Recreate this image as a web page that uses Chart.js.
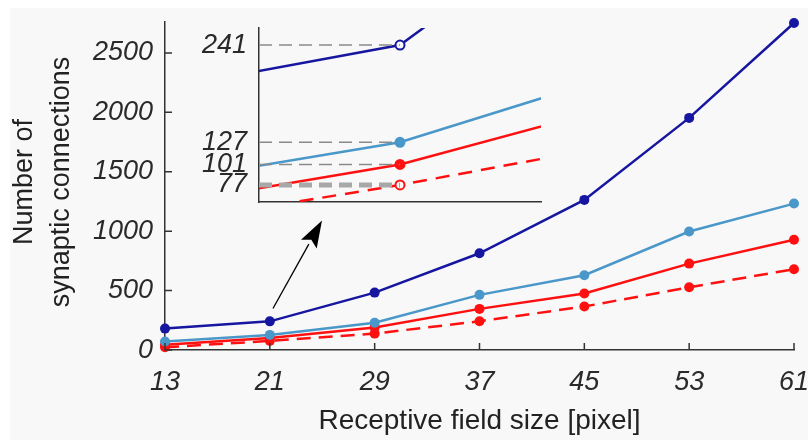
<!DOCTYPE html>
<html lang="en">
<head>
    <meta charset="UTF-8">
    <title>Synaptic connections vs receptive field size</title>
    <style>
        body {
            margin: 0;
            background-color: #ffffff;
        }
        #wrap {
            position: relative;
            width: 808px;
            height: 440px;
        }
        #main-chart {
            position: absolute;
            left: 0;
            top: 0;
        }
        #inset-chart {
            position: absolute;
            left: 190px;
            top: 15px;
        }
    </style>
</head>
<body>
    <div id="wrap">
        <canvas id="main-chart" width="808" height="440"></canvas>
        <canvas id="inset-chart" width="370" height="200"></canvas>
    </div>

    <script src="https://cdn.jsdelivr.net/npm/chart.js"></script>
    <script>
        // receptive field sizes (x)
        const fieldSizes = [13, 21, 29, 37, 45, 53, 61];
        // number of synaptic connections per series
        const darkBlue = [180, 241, 483, 814, 1263, 1953, 2752];
        const lightBlue = [72, 127, 230, 464, 629, 997, 1232];
        const redSolid = [45, 101, 190, 346, 475, 727, 927];
        const redDashed = [23, 77, 138, 242, 366, 528, 680];

        const yTicks = [0, 500, 1000, 1500, 2000, 2500];
        const insetTicks = [77, 101, 127, 241];
        const insetX = 21;

        const colors = {
            dark: '#1616a0',
            light: '#4a97c9',
            red: '#ff1010'
        };
        const FONT = '"Liberation Sans", Arial, sans-serif';

        const pts = (arr) => fieldSizes.map((x, i) => ({ x: x, y: arr[i] }));
        // no padding for labels hanging over the plot edges
        const noPad = s => { s.paddingLeft = 0; s.paddingRight = 0; s.paddingTop = 0; s.paddingBottom = 0; };

        function mainSet(arr, color, dashed) {
            return {
                data: pts(arr),
                borderColor: color,
                backgroundColor: color,
                borderWidth: 2.5,
                borderDash: dashed ? [14, 8] : [],
                pointRadius: 5,
                pointBorderWidth: 0,
                pointBackgroundColor: color,
                tension: 0,
                clip: false
            };
        }

        // background, titles, inward ticks and arrow
        const decorations = {
            id: 'decorations',
            beforeDraw(chart) {
                const ctx = chart.ctx;
                ctx.save();
                ctx.fillStyle = '#f8f8f8';
                ctx.fillRect(10, 8, chart.width - 10, chart.height - 8);
                ctx.restore();
            },
            afterDraw(chart) {
                const ctx = chart.ctx;
                const xs = chart.scales.x;
                const ys = chart.scales.y;
                const area = chart.chartArea;
                ctx.save();
                ctx.strokeStyle = '#333';
                ctx.lineWidth = 1.5;
                ctx.beginPath();
                yTicks.forEach(v => {
                    const py = ys.getPixelForValue(v);
                    ctx.moveTo(area.left, py);
                    ctx.lineTo(area.left + 7, py);
                });
                fieldSizes.forEach(v => {
                    const px = xs.getPixelForValue(v);
                    ctx.moveTo(px, area.bottom);
                    ctx.lineTo(px, area.bottom - 7);
                });
                ctx.stroke();

                // arrow pointing to the inset
                const x0 = xs.getPixelForValue(21.24), y0 = ys.getPixelForValue(349);
                const x1 = xs.getPixelForValue(24.98), y1 = ys.getPixelForValue(1089);
                const ang = Math.atan2(y1 - y0, x1 - x0);
                const len = 27, half = 9;
                const bx = x1 - len * Math.cos(ang), by = y1 - len * Math.sin(ang);
                ctx.strokeStyle = '#000';
                ctx.lineWidth = 1.3;
                ctx.beginPath();
                ctx.moveTo(x0, y0);
                ctx.lineTo(bx, by);
                ctx.stroke();
                ctx.fillStyle = '#000';
                ctx.beginPath();
                ctx.moveTo(x1, y1);
                ctx.lineTo(bx + half * Math.sin(ang), by - half * Math.cos(ang));
                ctx.lineTo(x1 - (len - 5) * Math.cos(ang), y1 - (len - 5) * Math.sin(ang));
                ctx.lineTo(bx - half * Math.sin(ang), by + half * Math.cos(ang));
                ctx.closePath();
                ctx.fill();

                // axis titles
                ctx.fillStyle = '#222';
                ctx.textAlign = 'center';
                ctx.textBaseline = 'middle';
                ctx.font = '28px ' + FONT;
                ctx.fillText('Receptive field size [pixel]', (area.left + area.right) / 2, 421);
                ctx.translate(43, 182);
                ctx.rotate(-Math.PI / 2);
                ctx.font = '27px ' + FONT;
                ctx.fillText('Number of', 0, -18);
                ctx.fillText('synaptic connections', 0, 19);
                ctx.restore();
            }
        };

        new Chart(document.getElementById('main-chart'), {
            type: 'line',
            data: {
                datasets: [
                    mainSet(darkBlue, colors.dark, false),
                    mainSet(lightBlue, colors.light, false),
                    mainSet(redSolid, colors.red, false),
                    mainSet(redDashed, colors.red, true)
                ]
            },
            options: {
                responsive: false,
                animation: false,
                events: [],
                layout: { padding: { top: 22, right: 14, left: 0, bottom: 0 } },
                plugins: { legend: { display: false }, tooltip: { enabled: false } },
                scales: {
                    x: {
                        type: 'linear',
                        min: 13,
                        max: 61,
                        afterBuildTicks: s => { s.ticks = fieldSizes.map(v => ({ value: v })); },
                        afterFit: s => { s.height = 90; noPad(s); },
                        grid: { display: false, drawTicks: false },
                        border: { display: true, color: '#333', width: 1.5 },
                        ticks: {
                            padding: 16,
                            color: '#2a2a2a',
                            callback: v => String(v),
                            font: { family: FONT, size: 27, style: 'italic' }
                        }
                    },
                    y: {
                        min: 0,
                        max: 2760,
                        afterBuildTicks: s => { s.ticks = yTicks.map(v => ({ value: v })); },
                        afterFit: s => { s.width = 165; noPad(s); },
                        grid: { display: false, drawTicks: false },
                        border: { display: true, color: '#333', width: 1.5 },
                        ticks: {
                            padding: 12,
                            color: '#2a2a2a',
                            callback: v => String(v),
                            font: { family: FONT, size: 27, style: 'italic' }
                        }
                    }
                }
            },
            plugins: [decorations]
        });

        // ---- inset (zoom around x = 21) ----
        function insetSet(arr, color, dashed, hollow) {
            return {
                data: pts(arr),
                borderColor: color,
                borderWidth: 2.5,
                borderDash: dashed ? [14, 9] : [],
                pointRadius: ctx => (ctx.raw && ctx.raw.x === insetX ? 4.5 : 0),
                pointBorderWidth: 2,
                pointBorderColor: color,
                pointBackgroundColor: hollow ? '#f8f8f8' : color,
                tension: 0
            };
        }

        function refLine(v, color, width) {
            return {
                data: [{ x: 17, y: v }, { x: insetX, y: v }],
                borderColor: color,
                borderWidth: width,
                borderDash: [13, 7],
                pointRadius: 0
            };
        }

        new Chart(document.getElementById('inset-chart'), {
            type: 'line',
            data: {
                datasets: [
                    refLine(241, '#8a8a8a', 1.5),
                    refLine(127, '#8a8a8a', 1.5),
                    refLine(101, '#8a8a8a', 1.5),
                    refLine(77, '#a8a8a8', 5),
                    insetSet(darkBlue, colors.dark, false, true),
                    insetSet(lightBlue, colors.light, false, false),
                    insetSet(redSolid, colors.red, false, false),
                    insetSet(redDashed, colors.red, true, true)
                ]
            },
            options: {
                responsive: false,
                animation: false,
                events: [],
                layout: { padding: { top: 13, right: 19, left: 0, bottom: 0 } },
                plugins: { legend: { display: false }, tooltip: { enabled: false } },
                scales: {
                    x: {
                        type: 'linear',
                        min: 17,
                        max: 25,
                        afterFit: s => { s.height = 13; noPad(s); },
                        grid: { display: false, drawTicks: false },
                        border: { display: true, color: '#333', width: 1.5 },
                        ticks: { display: false }
                    },
                    y: {
                        min: 57,
                        max: 261,
                        afterBuildTicks: s => { s.ticks = insetTicks.map(v => ({ value: v })); },
                        afterFit: s => { s.width = 69; noPad(s); },
                        grid: { display: false, drawTicks: false },
                        border: { display: true, color: '#333', width: 1.5 },
                        ticks: {
                            padding: 12,
                            color: '#2a2a2a',
                            font: { family: FONT, size: 27, style: 'italic' }
                        }
                    }
                }
            }
        });
    </script>
</body>
</html>
